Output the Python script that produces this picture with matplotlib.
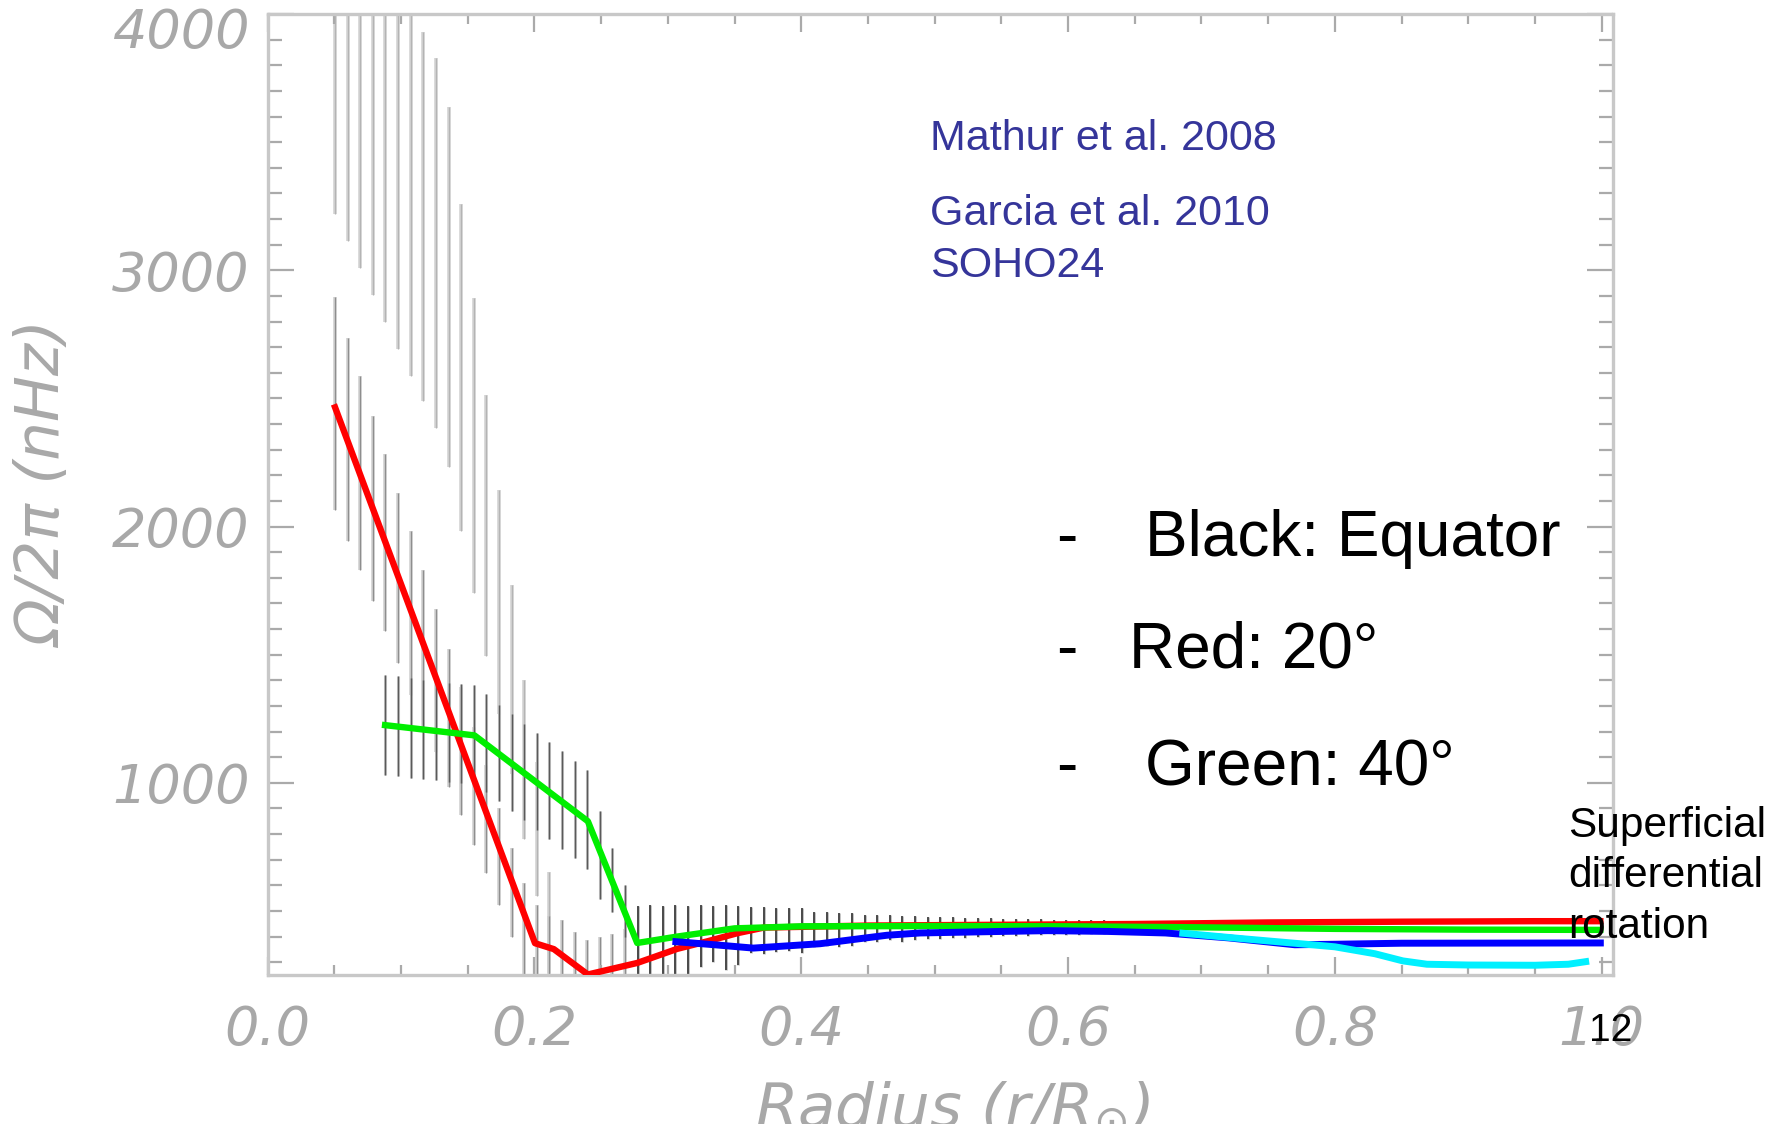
import matplotlib
matplotlib.use("Agg")
import matplotlib.pyplot as plt
from matplotlib.transforms import ScaledTranslation

# ---------------------------------------------------------------- data
# rotation rate along 20 deg latitude (red), 40 deg (green), equator-ish
# deep profile (blue) and superficial layer (cyan)
red_r = [0.0505, 0.2004, 0.2145, 0.2400, 0.2770, 0.3070, 0.3300, 0.3520,
         0.3720, 0.4500, 0.5500, 0.6500, 0.7500, 0.8500, 0.9500, 0.9990]
red_v = [2465, 374, 351, 252, 297, 352, 382, 413,
         435, 443, 446, 449, 455, 458, 460, 460]

green_r = [0.088, 0.155, 0.240, 0.277, 0.307, 0.350, 0.400, 0.500,
           0.600, 0.700, 0.800, 0.900, 0.999]
green_v = [1225, 1185, 850, 375, 400, 432, 440, 441,
           440, 436, 430, 427, 426]

blue_r = [0.306, 0.335, 0.364, 0.414, 0.464, 0.489, 0.550, 0.585,
          0.630, 0.673, 0.720, 0.770, 0.800, 0.850, 0.999]
blue_v = [380, 368, 355, 372, 405, 414, 420, 423,
          420, 414, 395, 368, 370, 374, 375]

cyan_r = [0.686, 0.730, 0.774, 0.800, 0.830, 0.851, 0.869, 0.900,
          0.950, 0.975, 0.988]
cyan_v = [413, 392, 372, 360, 333, 305, 292, 289,
          288, 292, 302]

# error bars: equator
eq_r = [0.0505, 0.0600, 0.0694, 0.0789, 0.0883, 0.0978, 0.1072, 0.1167,
        0.1261, 0.1356, 0.1450, 0.1545, 0.1639, 0.1734, 0.1828, 0.1923,
        0.2017, 0.2112]
eq_lo = [3221, 3114, 3010, 2905, 2798, 2694, 2587, 2488,
         2383, 2231, 1982, 1742, 1493, 1269, 1034, 780,
         560, 257]
eq_hi = [4660, 4560, 4450, 4350, 4240, 4130, 4030, 3930,
         3830, 3637, 3258, 2890, 2512, 2144, 1772, 1400,
         1080, 653]

# error bars: 20 deg
red_err_r = [0.0505, 0.0600, 0.0694, 0.0789, 0.0883, 0.0978, 0.1072, 0.1167,
             0.1261, 0.1356, 0.1450, 0.1545, 0.1639, 0.1734, 0.1828, 0.1923,
             0.2017, 0.2112, 0.2206, 0.2301, 0.2395, 0.2490, 0.2584, 0.2679]
red_lo = [2065, 1945, 1829, 1711, 1592, 1468, 1344, 1219,
          1120, 983, 876, 759, 648, 523, 398, 250,
          230, 220, 200, 180, 150, 160, 170, 180]
red_hi = [2897, 2736, 2587, 2432, 2284, 2132, 1982, 1829,
          1679, 1523, 1374, 1219, 1070, 901, 747, 610,
          523, 480, 465, 419, 386, 400, 410, 430]

# error bars: 40 deg
green_err_r = [0.0883, 0.0978, 0.1072, 0.1167, 0.1261, 0.1356, 0.1450, 0.1545,
               0.1639, 0.1734, 0.1828, 0.1923, 0.2017, 0.2112, 0.2206, 0.2301,
               0.2395, 0.2490, 0.2584, 0.2679]
green_lo = [1030, 1025, 1020, 1015, 1010, 1005, 1000, 995,
            965, 930, 890, 855, 815, 780, 740, 705,
            665, 545, 495, 400]
green_hi = [1420, 1415, 1410, 1400, 1395, 1390, 1385, 1380,
            1345, 1305, 1270, 1230, 1195, 1160, 1125, 1085,
            1050, 890, 745, 600]

# error bars in the radiative interior
deep_r = [0.2773, 0.2868, 0.2962, 0.3057, 0.3151, 0.3246, 0.3340, 0.3435,
          0.3529, 0.3624, 0.3718, 0.3813, 0.3907, 0.4002, 0.4096, 0.4191,
          0.4285, 0.4380, 0.4474, 0.4569, 0.4663, 0.4758, 0.4852, 0.4947,
          0.5041, 0.5136, 0.5230, 0.5325, 0.5419, 0.5514, 0.5608, 0.5703,
          0.5797, 0.5892, 0.5986, 0.6081, 0.6175, 0.6270, 0.6364, 0.6459,
          0.6553, 0.6648, 0.6742, 0.6837]
deep_lo = [250, 240, 240, 250, 245, 280, 300, 270,
           290, 335, 330, 340, 345, 335, 360, 365,
           360, 365, 380, 380, 385, 380, 385, 390,
           392, 395, 396, 398, 400, 402, 403, 404,
           405, 406, 407, 408, 409, 410, 410, 411,
           412, 412, 413, 413]
deep_hi = [520, 525, 520, 525, 520, 525, 520, 525,
           520, 515, 515, 510, 510, 510, 495, 495,
           490, 490, 485, 485, 485, 480, 480, 478,
           476, 475, 474, 472, 472, 470, 470, 468,
           468, 466, 466, 465, 465, 463, 462, 462,
           460, 460, 458, 458]

x_ticks = [0.0, 0.2, 0.4, 0.6, 0.8, 1.0]
x_tick_labels = ["0.0", "0.2", "0.4", "0.6", "0.8", "1.0"]
y_ticks = [1000, 2000, 3000, 4000]
y_tick_labels = ["1000", "2000", "3000", "4000"]

# ---------------------------------------------------------------- figure
W, H = 1789, 1124
fig = plt.figure(figsize=(W / 100, H / 100), dpi=100)
fig.patch.set_facecolor("white")


def fx(px):
    return px / W


def fy(py):
    return 1 - py / H


ax = fig.add_axes([fx(267.7), fy(975), (1613 - 267.7) / W, (975 - 14) / H])
ax.set_xlim(0, 1.0085)
ax.set_ylim(250, 4000)


def bars(r, lo, hi, halo, core, halo_w=2.6, core_w=0.9):
    ax.vlines(r, lo, hi, colors=halo, linewidth=halo_w, zorder=1)
    ax.vlines(r, lo, hi, colors=core, linewidth=core_w, zorder=1.1)


bars(eq_r, eq_lo, eq_hi, "#d3d3d3", "#b4b4b4")
bars(red_err_r, red_lo, red_hi, "#d0d0d0", "#8e8e8e")
bars(green_err_r, green_lo, green_hi, "#c8c8c8", "#5a5a5a", 2.2, 1.0)
bars(deep_r, deep_lo, deep_hi, "#bdbdbd", "#2a2a2a", 2.0, 1.1)

ax.plot(red_r, red_v, color="#ff0000", lw=4.6, solid_joinstyle="round", zorder=3)
ax.plot(green_r, green_v, color="#00ee00", lw=4.6, solid_joinstyle="round", zorder=3.1)
ax.plot(blue_r, blue_v, color="#0000ff", lw=5.0, solid_joinstyle="round", zorder=3.2)
ax.plot(cyan_r, cyan_v, color="#00f0ff", lw=5.0, solid_joinstyle="round", zorder=3.3)

# ---------------------------------------------------------------- axes style
axis_grey = "#c8c8c8"
tick_grey = "#aaaaaa"
label_grey = "#a8a8a8"
for s in ax.spines.values():
    s.set_color(axis_grey)
    s.set_linewidth(2.4)

ax.set_xticks(x_ticks)
ax.set_xticklabels(x_tick_labels, fontstyle="italic", fontsize=39, color=label_grey)
ax.set_xticks([i * 0.05 for i in range(21)], minor=True)
ax.set_yticks(y_ticks)
ax.set_yticklabels(y_tick_labels, fontstyle="italic", fontsize=39, color=label_grey)
ax.set_yticks(list(range(300, 4001, 100)), minor=True)

ax.tick_params(axis="y", which="major", direction="in", length=18.5, width=1.6,
               color=tick_grey, left=True, right=True, pad=13)
ax.tick_params(axis="y", which="minor", direction="in", length=10, width=1.6,
               color=tick_grey, left=True, right=True)
ax.tick_params(axis="x", which="major", direction="in", length=13, width=1.6,
               color=tick_grey, bottom=True, top=True, pad=21)
ax.tick_params(axis="x", which="minor", direction="in", length=7, width=1.6,
               color=tick_grey, bottom=True, top=True)

# the topmost y label sits a little lower than the tick
top_lbl = ax.get_yticklabels()[-1]
top_lbl.set_transform(top_lbl.get_transform()
                      + ScaledTranslation(0, -14 / 100, fig.dpi_scale_trans))

fig.text(fx(45), fy(485), "\u03a9/2\u03c0 (nHz)", rotation=90, ha="center",
         va="center", fontstyle="italic", fontsize=44, color=label_grey)
fig.text(fx(953), fy(1080), r"Radius (r/R$_{\odot}$)", ha="center", va="top",
         fontstyle="italic", fontsize=44, color=label_grey)

# ---------------------------------------------------------------- annotations
ref_blue = "#35359a"
sans = "Liberation Sans"
fig.text(fx(930), fy(150), "Mathur et al. 2008", fontsize=31, color=ref_blue,
         family=sans, va="baseline")
fig.text(fx(930), fy(225), "Garcia et al. 2010", fontsize=31, color=ref_blue,
         family=sans, va="baseline")
fig.text(fx(930), fy(277), "SOHO24", fontsize=31, color=ref_blue,
         family=sans, va="baseline")

legend_rows = [("Black: Equator", 1149, 556),
               ("Red: 20\u00b0", 1133, 668),
               ("Green: 40\u00b0", 1149, 785)]
for txt, x0, base in legend_rows:
    fig.text(fx(1056), fy(base), "-", fontsize=46, color="black",
             family=sans, va="baseline")
    fig.text(fx(x0 - 4), fy(base), txt, fontsize=46, color="black",
             family=sans, va="baseline")

for txt, base in [("Superficial", 837), ("differential", 887), ("rotation", 938)]:
    fig.text(fx(1568), fy(base), txt, fontsize=30.5, color="black",
             family=sans, va="baseline")

fig.text(fx(1589), fy(1041), "12", fontsize=28, color="black",
         family=sans, va="baseline")

fig.savefig("out.png", dpi=100, facecolor="white")
